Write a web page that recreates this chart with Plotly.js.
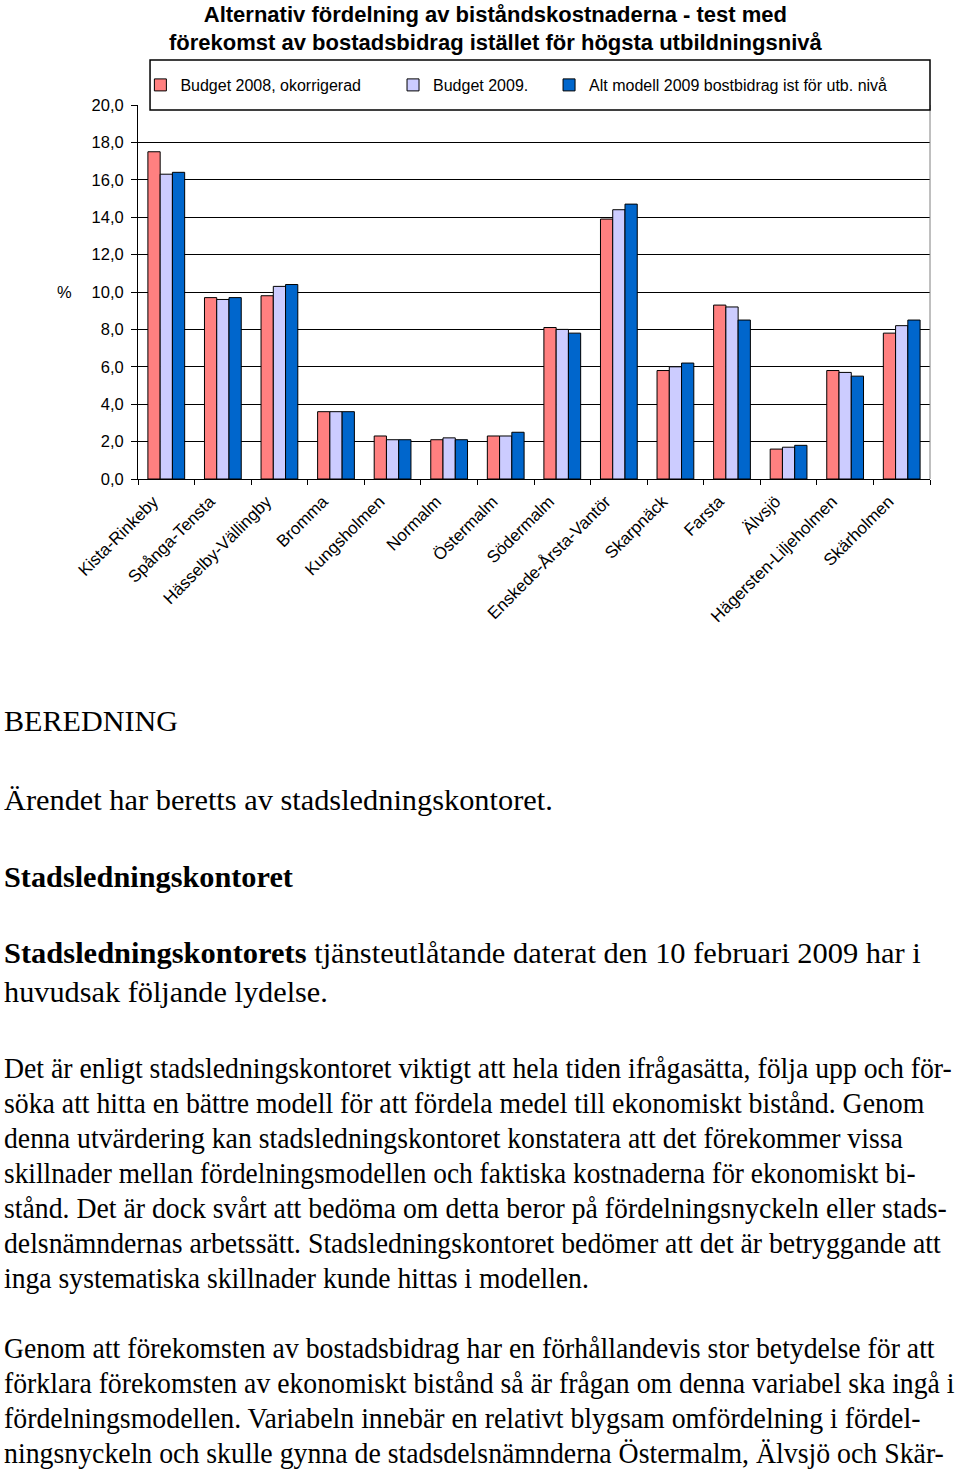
<!DOCTYPE html>
<html>
<head>
<meta charset="utf-8">
<script src="https://cdn.plot.ly/plotly-3.0.1.min.js"></script>
<style>
  html, body { margin: 0; padding: 0; background: #ffffff; }
  #page { position: relative; width: 960px; height: 1472px; overflow: hidden; background: #fff; }
  #chart { position: absolute; left: 0; top: 0; width: 960px; height: 650px; }
  #doc { position: absolute; left: 0; top: 0; width: 960px; height: 1472px; pointer-events: none; }
</style>
</head>
<body>
<div id="page">
  <div id="chart"></div>
  <svg id="doc" width="960" height="1472" xmlns="http://www.w3.org/2000/svg"></svg>
</div>
<script>
// ---- chart data ----
const categories = ['Kista-Rinkeby', 'Spånga-Tensta', 'Hässelby-Vällingby', 'Bromma', 'Kungsholmen', 'Normalm', 'Östermalm', 'Södermalm', 'Enskede-Årsta-Vantör', 'Skarpnäck', 'Farsta', 'Älvsjö', 'Hägersten-Liljeholmen', 'Skärholmen'];
const budget2008 = [17.5, 9.7, 9.8, 3.6, 2.3, 2.1, 2.3, 8.1, 13.9, 5.8, 9.3, 1.6, 5.8, 7.8];
const budget2009 = [16.3, 9.6, 10.3, 3.6, 2.1, 2.2, 2.3, 8.0, 14.4, 6.0, 9.2, 1.7, 5.7, 8.2];
const altModel   = [16.4, 9.7, 10.4, 3.6, 2.1, 2.1, 2.5, 7.8, 14.7, 6.2, 8.5, 1.8, 5.5, 8.5];
const seriesNames = ['Budget 2008, okorrigerad', 'Budget 2009.', 'Alt modell 2009 bostbidrag ist för utb. nivå'];
const yTickVals = [0, 2, 4, 6, 8, 10, 12, 14, 16, 18, 20];

const FONT = 'Liberation Sans, Arial, sans-serif';
const colors = ['#FF8080', '#CCCCFF', '#0066CC'];
const seriesValues = [budget2008, budget2009, altModel];
const legendIds = ['legend', 'legend2', 'legend3'];

const traces = seriesValues.map((vals, i) => ({
  type: 'bar',
  name: seriesNames[i],
  x: categories,
  y: vals,
  legend: legendIds[i],
  marker: { color: colors[i], line: { color: '#000000', width: 1 } },
  hoverinfo: 'x+y+name'
}));

// plot area: x 138..930, y 105..479
const legendFont = { family: FONT, size: 16, color: '#000' };
const legendCommon = { orientation: 'h', bgcolor: 'rgba(0,0,0,0)', borderwidth: 0, font: legendFont, yanchor: 'middle', xanchor: 'left', y: 1.0535 };

const layout = {
  width: 960,
  height: 650,
  margin: { l: 138, r: 30, t: 105, b: 171 },
  paper_bgcolor: '#ffffff',
  plot_bgcolor: '#ffffff',
  separators: ',.',
  font: { family: FONT, color: '#000' },
  title: {
    text: 'Alternativ fördelning av biståndskostnaderna - test med<br>förekomst av bostadsbidrag istället för högsta utbildningsnivå',
    font: { family: FONT, size: 22, color: '#000', weight: 'bold' },
    x: 0.516, xref: 'container', xanchor: 'center',
    y: 0.9666, yref: 'container', yanchor: 'top'
  },
  barmode: 'group',
  bargap: 0.35,
  bargroupgap: 0,
  showlegend: true,
  legend: Object.assign({}, legendCommon, { x: 0.003 }),
  legend2: Object.assign({}, legendCommon, { x: 0.322 }),
  legend3: Object.assign({}, legendCommon, { x: 0.519 }),
  xaxis: {
    type: 'category',
    tickson: 'boundaries',
    ticks: 'outside', ticklen: 5, tickcolor: '#000', tickwidth: 1,
    showline: true, linecolor: '#000', linewidth: 1,
    showgrid: false,
    tickangle: -45,
    ticklabelshift: -13,
    ticklabelstandoff: 5,
    tickfont: { family: FONT, size: 17, color: '#000' },
    automargin: false
  },
  yaxis: {
    range: [0, 20],
    tickvals: yTickVals,
    tickformat: '.1f',
    ticks: 'outside', ticklen: 6, tickcolor: '#000', tickwidth: 1,
    ticklabelstandoff: 4,
    showline: true, linecolor: '#000', linewidth: 1,
    showgrid: true, gridcolor: '#000', gridwidth: 1,
    zeroline: false,
    tickfont: { family: FONT, size: 16.5, color: '#000' },
    automargin: false
  },
  shapes: [
    { type: 'line', xref: 'paper', yref: 'paper', x0: 1, x1: 1, y0: 0, y1: 1, line: { color: '#808080', width: 1 } },
    { type: 'rect', xref: 'paper', yref: 'paper', x0: 0.0152, x1: 1.0, y0: 0.9866, y1: 1.1203,
      fillcolor: '#ffffff', line: { color: '#000', width: 1.5 }, layer: 'above' }
  ],
  annotations: [
    { text: '%', xref: 'paper', yref: 'paper', x: -0.0934, y: 0.5, xanchor: 'center', yanchor: 'middle',
      showarrow: false, font: { family: FONT, size: 16.5, color: '#000' } }
  ]
};

Plotly.newPlot('chart', traces, layout, { displayModeBar: false, staticPlot: true });

// ---- document text below the chart ----
const svgNS = 'http://www.w3.org/2000/svg';
const doc = document.getElementById('doc');
const SERIF = 'Liberation Serif, Times New Roman, serif';
// [segments, baseline y, target width]
const lines = [
  [[['BEREDNING', false]], 731, 174],
  [[['Ärendet har beretts av stadsledningskontoret.', false]], 810, 549],
  [[['Stadsledningskontoret', true]], 887, 289],
  [[['Stadsledningskontorets', true], [' tjänsteutlåtande daterat den 10 februari 2009 har i', false]], 963, 917],
  [[['huvudsak följande lydelse.', false]], 1002, 324],
  [[['Det är enligt stadsledningskontoret viktigt att hela tiden ifrågasätta, följa upp och för-', false]], 1078, 948],
  [[['söka att hitta en bättre modell för att fördela medel till ekonomiskt bistånd. Genom', false]], 1113, 921],
  [[['denna utvärdering kan stadsledningskontoret konstatera att det förekommer vissa', false]], 1148, 899],
  [[['skillnader mellan fördelningsmodellen och faktiska kostnaderna för ekonomiskt bi-', false]], 1183, 912],
  [[['stånd. Det är dock svårt att bedöma om detta beror på fördelningsnyckeln eller stads-', false]], 1218, 943],
  [[['delsnämndernas arbetssätt. Stadsledningskontoret bedömer att det är betryggande att', false]], 1253, 937],
  [[['inga systematiska skillnader kunde hittas i modellen.', false]], 1288, 585],
  [[['Genom att förekomsten av bostadsbidrag har en förhållandevis stor betydelse för att', false]], 1358, 931],
  [[['förklara förekomsten av ekonomiskt bistånd så är frågan om denna variabel ska ingå i', false]], 1393, 951],
  [[['fördelningsmodellen. Variabeln innebär en relativt blygsam omfördelning i fördel-', false]], 1428, 917],
  [[['ningsnyckeln och skulle gynna de stadsdelsnämnderna Östermalm, Älvsjö och Skär-', false]], 1463, 940]
];

lines.forEach(([segs, base, target]) => {
  const g = document.createElementNS(svgNS, 'g');
  const t = document.createElementNS(svgNS, 'text');
  t.setAttribute('x', '0');
  t.setAttribute('y', '0');
  t.setAttribute('font-family', SERIF);
  t.setAttribute('font-size', '28');
  t.setAttribute('fill', '#000');
  t.setAttribute('xml:space', 'preserve');
  t.style.whiteSpace = 'pre';
  segs.forEach(([s, bold]) => {
    const ts = document.createElementNS(svgNS, 'tspan');
    ts.textContent = s;
    if (bold) ts.setAttribute('font-weight', 'bold');
    t.appendChild(ts);
  });
  g.appendChild(t);
  doc.appendChild(g);
  const w = t.getComputedTextLength() || target;
  const sx = target / w;
  g.setAttribute('transform', 'translate(4,' + base + ') scale(' + sx.toFixed(4) + ',1.05)');
});
</script>
</body>
</html>
